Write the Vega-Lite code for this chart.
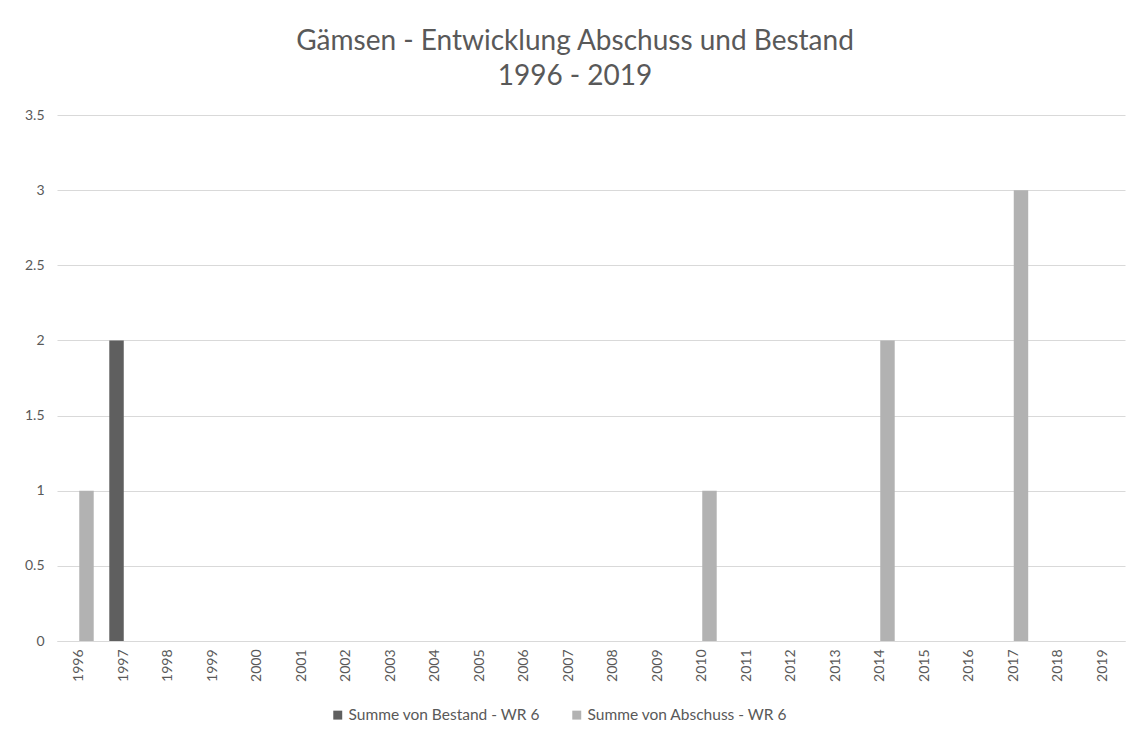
{
  "$schema": "https://vega.github.io/schema/vega-lite/v6.json",
  "width": 1068,
  "height": 526,
  "autosize": "none",
  "padding": {"left": 57, "top": 115, "right": 9, "bottom": 93},
  "background": "#ffffff",
  "title": {
    "text": ["Gämsen - Entwicklung Abschuss und Bestand", "1996 - 2019"],
    "font": "Lato",
    "fontSize": 28,
    "fontWeight": "normal",
    "color": "#595959",
    "anchor": "middle",
    "dx": -16,
    "offset": 17,
    "lineHeight": 35
  },
  "data": {
    "values": [
      {"year": "1996", "series": "Summe von Bestand - WR 6", "value": 0},
      {"year": "1996", "series": "Summe von Abschuss - WR 6", "value": 1},
      {"year": "1997", "series": "Summe von Bestand - WR 6", "value": 2},
      {"year": "1997", "series": "Summe von Abschuss - WR 6", "value": 0},
      {"year": "1998", "series": "Summe von Bestand - WR 6", "value": 0},
      {"year": "1998", "series": "Summe von Abschuss - WR 6", "value": 0},
      {"year": "1999", "series": "Summe von Bestand - WR 6", "value": 0},
      {"year": "1999", "series": "Summe von Abschuss - WR 6", "value": 0},
      {"year": "2000", "series": "Summe von Bestand - WR 6", "value": 0},
      {"year": "2000", "series": "Summe von Abschuss - WR 6", "value": 0},
      {"year": "2001", "series": "Summe von Bestand - WR 6", "value": 0},
      {"year": "2001", "series": "Summe von Abschuss - WR 6", "value": 0},
      {"year": "2002", "series": "Summe von Bestand - WR 6", "value": 0},
      {"year": "2002", "series": "Summe von Abschuss - WR 6", "value": 0},
      {"year": "2003", "series": "Summe von Bestand - WR 6", "value": 0},
      {"year": "2003", "series": "Summe von Abschuss - WR 6", "value": 0},
      {"year": "2004", "series": "Summe von Bestand - WR 6", "value": 0},
      {"year": "2004", "series": "Summe von Abschuss - WR 6", "value": 0},
      {"year": "2005", "series": "Summe von Bestand - WR 6", "value": 0},
      {"year": "2005", "series": "Summe von Abschuss - WR 6", "value": 0},
      {"year": "2006", "series": "Summe von Bestand - WR 6", "value": 0},
      {"year": "2006", "series": "Summe von Abschuss - WR 6", "value": 0},
      {"year": "2007", "series": "Summe von Bestand - WR 6", "value": 0},
      {"year": "2007", "series": "Summe von Abschuss - WR 6", "value": 0},
      {"year": "2008", "series": "Summe von Bestand - WR 6", "value": 0},
      {"year": "2008", "series": "Summe von Abschuss - WR 6", "value": 0},
      {"year": "2009", "series": "Summe von Bestand - WR 6", "value": 0},
      {"year": "2009", "series": "Summe von Abschuss - WR 6", "value": 0},
      {"year": "2010", "series": "Summe von Bestand - WR 6", "value": 0},
      {"year": "2010", "series": "Summe von Abschuss - WR 6", "value": 1},
      {"year": "2011", "series": "Summe von Bestand - WR 6", "value": 0},
      {"year": "2011", "series": "Summe von Abschuss - WR 6", "value": 0},
      {"year": "2012", "series": "Summe von Bestand - WR 6", "value": 0},
      {"year": "2012", "series": "Summe von Abschuss - WR 6", "value": 0},
      {"year": "2013", "series": "Summe von Bestand - WR 6", "value": 0},
      {"year": "2013", "series": "Summe von Abschuss - WR 6", "value": 0},
      {"year": "2014", "series": "Summe von Bestand - WR 6", "value": 0},
      {"year": "2014", "series": "Summe von Abschuss - WR 6", "value": 2},
      {"year": "2015", "series": "Summe von Bestand - WR 6", "value": 0},
      {"year": "2015", "series": "Summe von Abschuss - WR 6", "value": 0},
      {"year": "2016", "series": "Summe von Bestand - WR 6", "value": 0},
      {"year": "2016", "series": "Summe von Abschuss - WR 6", "value": 0},
      {"year": "2017", "series": "Summe von Bestand - WR 6", "value": 0},
      {"year": "2017", "series": "Summe von Abschuss - WR 6", "value": 3},
      {"year": "2018", "series": "Summe von Bestand - WR 6", "value": 0},
      {"year": "2018", "series": "Summe von Abschuss - WR 6", "value": 0},
      {"year": "2019", "series": "Summe von Bestand - WR 6", "value": 0},
      {"year": "2019", "series": "Summe von Abschuss - WR 6", "value": 0}
    ]
  },
  "mark": {"type": "bar"},
  "encoding": {
    "x": {
      "field": "year",
      "type": "nominal",
      "scale": {"paddingInner": 0.35, "paddingOuter": 0.175},
      "axis": {
        "title": null,
        "labelAngle": -90,
        "labelAlign": "right",
        "labelBaseline": "middle",
        "labelFont": "Lato",
        "labelFontSize": 14,
        "labelColor": "#595959",
        "labelPadding": 8,
        "ticks": false,
        "domainColor": "#d9d9d9",
        "grid": false
      }
    },
    "xOffset": {
      "field": "series",
      "type": "nominal",
      "scale": {"domain": ["Summe von Bestand - WR 6", "Summe von Abschuss - WR 6"], "paddingInner": 0, "paddingOuter": 0}
    },
    "y": {
      "field": "value",
      "type": "quantitative",
      "scale": {"domain": [0, 3.5], "nice": false},
      "axis": {
        "title": null,
        "values": [0, 0.5, 1, 1.5, 2, 2.5, 3, 3.5],
        "format": "~g",
        "labelFont": "Lato",
        "labelFontSize": 14,
        "labelColor": "#595959",
        "labelPadding": 13,
        "ticks": false,
        "domain": false,
        "gridColor": "#d9d9d9"
      }
    },
    "color": {
      "field": "series",
      "type": "nominal",
      "scale": {"domain": ["Summe von Bestand - WR 6", "Summe von Abschuss - WR 6"], "range": ["#5f5f5f", "#b2b2b2"]},
      "legend": {
        "title": null,
        "orient": "none",
        "direction": "horizontal",
        "legendX": 273,
        "legendY": 592,
        "symbolType": "square",
        "symbolSize": 80,
        "symbolStrokeWidth": 0,
        "labelFont": "Lato",
        "labelFontSize": 15.5,
        "labelLimit": 0,
        "labelColor": "#595959",
        "columnPadding": 28,
        "labelOffset": 3
      }
    }
  },
  "config": {"view": {"stroke": null}}
}
